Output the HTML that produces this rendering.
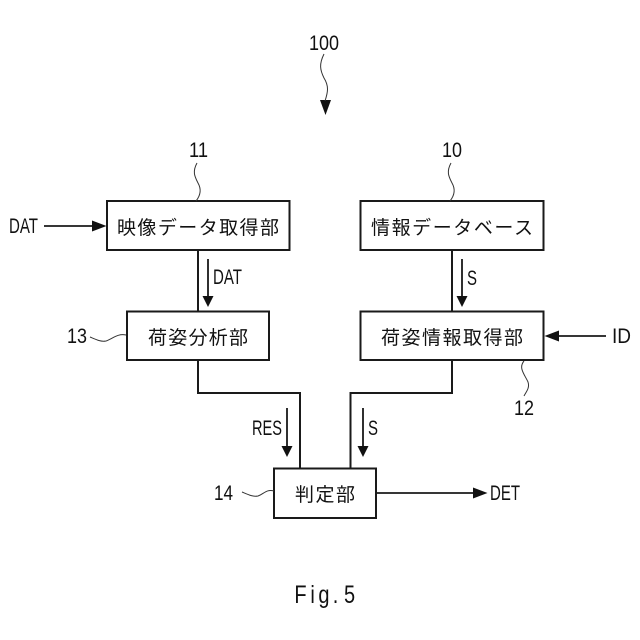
<!DOCTYPE html>
<html><head><meta charset="utf-8"><style>
html,body{margin:0;padding:0;background:#fff}
svg{display:block}
text{fill:#111;font-family:"Noto Sans CJK JP","IPAGothic",sans-serif}
.l{font-family:"Liberation Sans",sans-serif;font-size:21px}
.j{font-size:19px}
</style></head><body>
<svg width="640" height="640" viewBox="0 0 640 640" xmlns="http://www.w3.org/2000/svg">
<g fill="none" stroke="#1a1a1a" stroke-width="2">
<rect x="107" y="201" width="182.500" height="49"/>
<rect x="127" y="311.500" width="142" height="48.500"/>
<rect x="360.500" y="201" width="183" height="49"/>
<rect x="360.500" y="311.500" width="183" height="48.500"/>
<rect x="274" y="468.500" width="102" height="49.500"/>
<path d="M198 250V311.500M452 250V311.500M198 360V393H300V468.500M452 360V393H350.500V468.500"/>
<path d="M44 226H94M208 259V296M462 259V296M287 408V446M363 408V446M377 493H476M606 336H556" stroke-width="1.800"/>
</g>
<g fill="#111">
<path d="M92 220.500L106.500 226L92 231.500Z"/>
<path d="M202.500 296L213.500 296L208 307Z"/>
<path d="M456.500 296L467.500 296L462 307Z"/>
<path d="M281.500 446L292.500 446L287 457Z"/>
<path d="M357.500 446L368.500 446L363 457Z"/>
<path d="M473 487.500L487.500 493L473 498.500Z"/>
<path d="M559 330.500L544.500 336L559 341.500Z"/>
<path d="M320 100L331 100L325.500 115Z"/>
</g>
<g fill="none" stroke="#333" stroke-width="1">
<path d="M324 54C319 64 320 70 324 78C329 86 328 92 325 101"/>
<path d="M197 163C192 172 195 177 198 183C202 190 200 196 196 201"/>
<path d="M451 163C446 172 449 177 452 183C456 190 454 196 450 201"/>
<path d="M90 337C97 340 101 342 106 341C112 339 118 333 126 335"/>
<path d="M242 492C249 495 253 497 258 496C264 494 266 489 274 491"/>
<path d="M524 361C518 368 525 375 528 382C530 388 526 392 524 396"/>
</g>
<text class="l" x="9" y="233" textLength="29" lengthAdjust="spacingAndGlyphs">DAT</text>
<text class="l" x="213" y="284" textLength="29" lengthAdjust="spacingAndGlyphs">DAT</text>
<text class="l" x="467" y="285" textLength="10" lengthAdjust="spacingAndGlyphs">S</text>
<text class="l" x="252" y="435" textLength="30" lengthAdjust="spacingAndGlyphs">RES</text>
<text class="l" x="368" y="435" textLength="10" lengthAdjust="spacingAndGlyphs">S</text>
<text class="l" x="490" y="500" textLength="30" lengthAdjust="spacingAndGlyphs">DET</text>
<text class="l" x="612" y="343" textLength="19" lengthAdjust="spacingAndGlyphs">ID</text>
<text class="l" x="309" y="50" textLength="30" lengthAdjust="spacingAndGlyphs">100</text>
<text class="l" x="189" y="157" textLength="19" lengthAdjust="spacingAndGlyphs">11</text>
<text class="l" x="442" y="157" textLength="20" lengthAdjust="spacingAndGlyphs">10</text>
<text class="l" x="67" y="343" textLength="20" lengthAdjust="spacingAndGlyphs">13</text>
<text class="l" x="214" y="500" textLength="19" lengthAdjust="spacingAndGlyphs">14</text>
<text class="l" x="514" y="415" textLength="20" lengthAdjust="spacingAndGlyphs">12</text>
<text class="l" transform="scale(.8,1)" x="368 388 398 416 430" y="603" style="font-size:25px">Fig.5</text>
<text class="j" x="117" y="234" textLength="162" lengthAdjust="spacing">映像データ取得部</text>
<text class="j" x="148" y="344" textLength="100" lengthAdjust="spacing">荷姿分析部</text>
<text class="j" x="371" y="234" textLength="162" lengthAdjust="spacing">情報データベース</text>
<text class="j" x="381" y="344" textLength="142" lengthAdjust="spacing">荷姿情報取得部</text>
<text class="j" x="295" y="501" textLength="60" lengthAdjust="spacing">判定部</text>
</svg>
</body></html>
